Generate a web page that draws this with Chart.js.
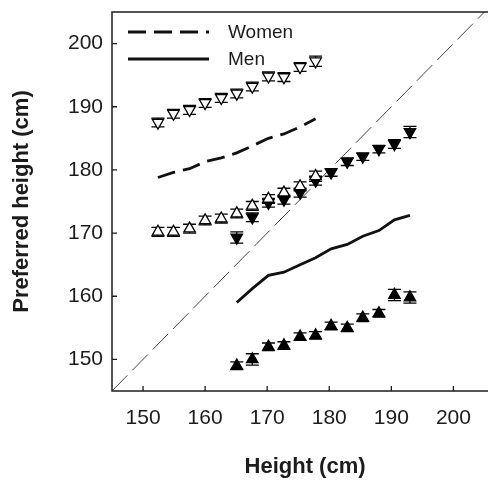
<!DOCTYPE html>
<html><head><meta charset="utf-8">
<script src="https://cdn.jsdelivr.net/npm/chart.js@4.4.0/dist/chart.umd.min.js"></script>
<style>
html,body{margin:0;padding:0;background:#fff;overflow:hidden;width:488px;height:481px}
#wrap{width:506px;height:481px;position:relative}
</style></head>
<body><div id="wrap"><canvas id="c" width="506" height="481"></canvas></div>
<script>
// Own height (cm) for each group
const womenHeights = [152.4,154.9,157.5,160.0,162.6,165.1,167.6,170.2,172.7,175.3,177.8];
const menHeights = [165.1,167.6,170.2,172.7,175.3,177.8,180.3,182.9,185.4,188.0,190.5,193.0];
// Women: preferred partner height (open down-triangles) and error
const womenPartnerPref = [187.5,188.9,189.5,190.6,191.4,192.1,193.2,194.8,194.7,196.3,197.2];
const womenPartnerErr = [0.7,0.7,0.7,0.7,0.7,0.7,0.7,0.7,0.7,0.7,0.8];
// Women: preferred own height (open up-triangles) and error
const womenOwnPref = [170.2,170.2,170.7,172.0,172.3,173.1,174.3,175.4,176.4,177.4,179.0];
const womenOwnErr = [0.7,0.7,0.7,0.7,0.7,0.7,0.7,0.7,0.7,0.7,0.8];
// Women line (dashed)
const womenLine = [178.8,179.6,180.2,181.3,181.9,182.7,183.8,185.0,185.7,186.8,188.1];
// Men: preferred own height (filled down-triangles) and error
const menOwnPref = [169.3,172.5,174.8,175.3,176.4,178.3,179.6,181.3,182.1,183.3,184.1,186.0];
const menOwnErr = [0.9,0.7,0.7,0.7,0.7,0.7,0.6,0.6,0.6,0.6,0.7,0.9];
// Men: preferred partner height (filled up-triangles) and error
const menPartnerPref = [149.0,150.0,152.0,152.2,153.6,153.8,155.3,155.0,156.6,157.3,160.2,159.8];
const menPartnerErr = [0.6,0.9,0.6,0.6,0.6,0.6,0.6,0.6,0.6,0.6,0.9,0.9];
// Men line (solid)
const menLine = [159.0,161.2,163.3,163.8,165.0,166.1,167.5,168.2,169.5,170.4,172.1,172.8];
// Identity line y = x
const identityLine = [145, 205];
const tickValues = [150,160,170,180,190,200];
const axisMin = 145, xAxisMax = 207.2, yAxisMax = 205;
const xTitle = 'Height (cm)';
const yTitle = 'Preferred height (cm)';

const pts = (xs, ys) => xs.map((x,i)=>({x:x, y:ys[i]}));
const INK = '#1c1c1c';
const FONT = '"Liberation Sans", Arial, Helvetica, sans-serif';

const errorBarPlugin = {
  id:'errorBars',
  beforeDatasetsDraw(chart){
    const {ctx} = chart, xs = chart.scales.x, ys = chart.scales.y;
    ctx.save(); ctx.strokeStyle='#000'; ctx.lineWidth=1.3;
    chart.data.datasets.forEach(ds=>{
      if(!ds.errors) return;
      ds.data.forEach((p,j)=>{
        const px = xs.getPixelForValue(p.x);
        const t = ys.getPixelForValue(p.y + ds.errors[j]);
        const b = ys.getPixelForValue(p.y - ds.errors[j]);
        ctx.beginPath();
        ctx.moveTo(px,t); ctx.lineTo(px,b);
        ctx.moveTo(px-6.5,t); ctx.lineTo(px+6.5,t);
        ctx.moveTo(px-6.5,b); ctx.lineTo(px+6.5,b);
        ctx.stroke();
      });
    });
    ctx.restore();
  }
};

const framePlugin = {
  id:'frame',
  afterDraw(chart){
    const {ctx, chartArea:a} = chart, xs = chart.scales.x, ys = chart.scales.y;
    ctx.save();
    ctx.strokeStyle=INK; ctx.lineWidth=1.5;
    ctx.strokeRect(a.left, a.top, a.right-a.left, a.bottom-a.top);
    ctx.lineWidth=1.3;
    ctx.beginPath();
    xs.ticks.forEach(t=>{const px=xs.getPixelForValue(t.value); ctx.moveTo(px,a.bottom); ctx.lineTo(px,a.bottom-5);});
    ys.ticks.forEach(t=>{const py=ys.getPixelForValue(t.value); ctx.moveTo(a.left,py); ctx.lineTo(a.left+5,py);});
    ctx.stroke();
    ctx.restore();
  }
};

const insideLegend = {
  id:'insideLegend',
  afterDatasetsDraw(chart){
    const {ctx, chartArea:a} = chart;
    chart.data.datasets.filter(d=>d.inLegend).forEach((d,i)=>{
      const yy = a.top + 20 + i*27;
      ctx.save();
      ctx.strokeStyle = d.borderColor; ctx.lineWidth = d.borderWidth;
      ctx.setLineDash(d.borderDash || []);
      ctx.beginPath(); ctx.moveTo(a.left+16, yy); ctx.lineTo(a.left+97, yy); ctx.stroke();
      ctx.setLineDash([]);
      ctx.fillStyle = INK; ctx.font = '19px ' + FONT; ctx.textBaseline = 'middle';
      ctx.fillText(d.label, a.left+116, yy+1);
      ctx.restore();
    });
  }
};

const markerBase = {showLine:false, pointRadius:6.6, pointHoverRadius:6.6, borderWidth:1.3, pointStyle:'triangle', order:0};

new Chart(document.getElementById('c'), {
  type:'scatter',
  data:{datasets:[
    {...markerBase, label:'Women partner', data:pts(womenHeights, womenPartnerPref), errors:womenPartnerErr,
      pointRotation:180, backgroundColor:'#fff', borderColor:'#000'},
    {...markerBase, label:'Women own', data:pts(womenHeights, womenOwnPref), errors:womenOwnErr,
      pointRotation:0, backgroundColor:'#fff', borderColor:'#000'},
    {...markerBase, label:'Men own', data:pts(menHeights, menOwnPref), errors:menOwnErr,
      pointRotation:180, backgroundColor:'#000', borderColor:'#000'},
    {...markerBase, label:'Men partner', data:pts(menHeights, menPartnerPref), errors:menPartnerErr,
      pointRotation:0, backgroundColor:'#000', borderColor:'#000'},
    {label:'Women', inLegend:true, data:pts(womenHeights, womenLine), showLine:true, pointRadius:0,
      borderColor:'#111', borderWidth:2.8, borderDash:[18,8], order:1, tension:0},
    {label:'Men', inLegend:true, data:pts(menHeights, menLine), showLine:true, pointRadius:0,
      borderColor:'#111', borderWidth:2.8, order:1, tension:0},
    {label:'identity', data:pts(identityLine, identityLine), showLine:true, pointRadius:0,
      borderColor:'#444', borderWidth:1, borderDash:[22,7], order:2}
  ]},
  options:{
    responsive:false, devicePixelRatio:1, animation:false,
    layout:{padding:{top:12, left:0, right:2, bottom:0}},
    plugins:{legend:{display:false}, tooltip:{enabled:false}},
    scales:{
      x:{type:'linear', min:axisMin, max:xAxisMax,
        afterBuildTicks:s=>{s.ticks = tickValues.map(v=>({value:v}));},
        afterFit:s=>{s.height = 90; s.paddingLeft = 0; s.paddingRight = 0;},
        grid:{display:false, drawTicks:false}, border:{display:false},
        ticks:{color:INK, font:{family:FONT, size:21}, padding:15, maxRotation:0},
        title:{display:true, text:xTitle, color:INK, font:{family:FONT, size:22, weight:'bold'}, padding:{top:0, bottom:1}}
      },
      y:{type:'linear', min:axisMin, max:yAxisMax,
        afterBuildTicks:s=>{s.ticks = tickValues.map(v=>({value:v}));},
        afterFit:s=>{s.width = 112; s.paddingTop = 0; s.paddingBottom = 0;},
        grid:{display:false, drawTicks:false}, border:{display:false},
        ticks:{color:INK, font:{family:FONT, size:21}, padding:9},
        title:{display:true, text:yTitle, color:INK, font:{family:FONT, size:22, weight:'bold'}, padding:{top:9, bottom:0}}
      }
    }
  },
  plugins:[errorBarPlugin, insideLegend, framePlugin]
});
</script>
</body></html>
